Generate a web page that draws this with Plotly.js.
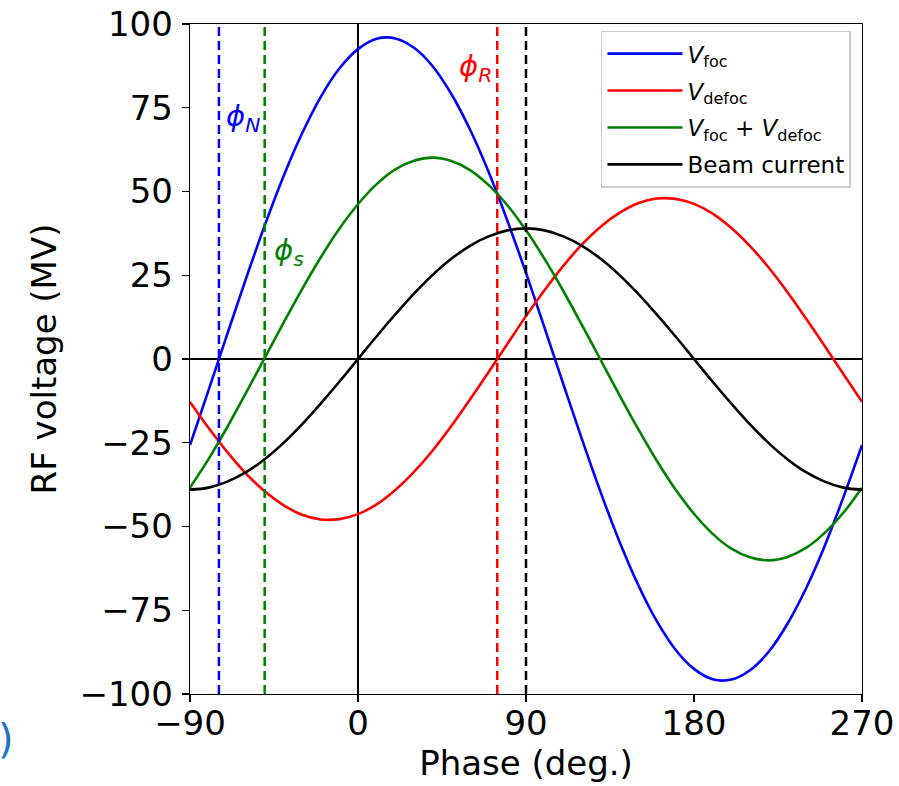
<!DOCTYPE html>
<html>
<head>
<meta charset="utf-8">
<script src="https://cdn.plot.ly/plotly-3.0.1.min.js"></script>
<style>
  html, body { margin: 0; padding: 0; background: #ffffff; }
  #chart { width: 899px; height: 786px; }
</style>
</head>
<body>
<div id="chart"></div>
<script>
// Phase samples (deg.)
const phase = [-90,-80,-70,-60,-50,-40,-30,-20,-10,0,10,20,30,40,50,60,70,80,90,100,110,120,130,140,150,160,170,180,190,200,210,220,230,240,250,260,270];

// V_foc (MV)
const vFoc = [-25.7,-9.2,7.5,24.0,39.8,54.4,67.3,78.2,86.7,92.5,95.6,95.7,92.9,87.4,79.1,68.5,55.8,41.3,25.7,9.2,-7.5,-24.0,-39.8,-54.4,-67.3,-78.2,-86.7,-92.5,-95.6,-95.7,-92.9,-87.4,-79.1,-68.5,-55.8,-41.3,-25.7];

// V_defoc (MV)
const vDefoc = [-12.8,-20.6,-27.8,-34.2,-39.5,-43.6,-46.5,-47.9,-47.8,-46.3,-43.4,-39.1,-33.7,-27.3,-20.0,-12.1,-3.9,4.5,12.8,20.6,27.8,34.2,39.5,43.6,46.5,47.9,47.8,46.3,43.4,39.1,33.7,27.3,20.0,12.1,3.9,-4.5,-12.8];

// V_foc + V_defoc (MV)
const vSum = [-38.4,-29.8,-20.3,-10.1,0.3,10.7,20.8,30.3,38.9,46.2,52.2,56.6,59.2,60.1,59.1,56.4,51.9,45.9,38.4,29.8,20.3,10.1,-0.3,-10.7,-20.8,-30.3,-38.9,-46.2,-52.2,-56.6,-59.2,-60.1,-59.1,-56.4,-51.9,-45.9,-38.4];

// Beam current (scaled)
const beam = [-39.0,-38.4,-36.6,-33.8,-29.9,-25.1,-19.5,-13.3,-6.8,0,6.8,13.3,19.5,25.1,29.9,33.8,36.6,38.4,39.0,38.4,36.6,33.8,29.9,25.1,19.5,13.3,6.8,0,-6.8,-13.3,-19.5,-25.1,-29.9,-33.8,-36.6,-38.4,-39.0];

// Characteristic phases (deg.)
const markerNames = ['phiN', 'phiS', 'phiR', 'beam'];
const markerPhase = [-74.5, -50, 74.6, 90];
const markerColor = ['#0000ff', '#008000', '#ff0000', '#000000'];

// Labels
const seriesNames = [
  '<i>V</i><sub>foc</sub>',
  '<i>V</i><sub>defoc</sub>',
  '<i>V</i><sub>foc</sub> + <i>V</i><sub>defoc</sub>',
  'Beam current'
];
const seriesColor = ['#0000ff', '#ff0000', '#008000', '#000000'];
const xTicks = [-90, 0, 90, 180, 270];
const yTicks = [-100, -75, -50, -25, 0, 25, 50, 75, 100];
const yTickText = ['\u2212100', '\u221275', '\u221250', '\u221225', '0', '25', '50', '75', '100'];
const xTickText = ['\u221290', '0', '90', '180', '270'];

const seriesY = [vFoc, vDefoc, vSum, beam];
const traces = seriesY.map((ys, i) => ({
  x: phase, y: ys, type: 'scatter', mode: 'lines',
  name: seriesNames[i], legendgroup: 'g' + i,
  line: { color: seriesColor[i], width: 2.6, shape: 'spline', smoothing: 1 }
}));

const shapes = markerPhase.map((p, i) => ({
  type: 'line', xref: 'x', yref: 'paper', x0: p, x1: p, y0: 0, y1: 1,
  line: { color: markerColor[i], width: 2.5, dash: '9px,5px' }, layer: 'above'
}));

const font = 'DejaVu Sans, sans-serif';
const annotations = [
  { x: -61.5, y: 72, text: '<i>\u03D5</i><sub><i>N</i></sub>', font: { color: '#0000ff', size: 29, family: font } },
  { x: -37, y: 32, text: '<i>\u03D5</i><sub><i>s</i></sub>', font: { color: '#008000', size: 29, family: font } },
  { x: 63, y: 87, text: '<i>\u03D5</i><sub><i>R</i></sub>', font: { color: '#ff0000', size: 29, family: font } }
].map(a => Object.assign({ xref: 'x', yref: 'y', showarrow: false }, a));
annotations.push({
  xref: 'paper', yref: 'paper', x: -0.288, y: -0.105, text: ')', showarrow: false,
  font: { color: '#1a73c4', size: 40, family: font }
});

const layout = {
  width: 899, height: 786,
  margin: { l: 190, r: 37, t: 24, b: 92 },
  paper_bgcolor: '#ffffff', plot_bgcolor: '#ffffff',
  font: { family: font, color: '#000000', size: 34 },
  showlegend: true,
  legend: {
    x: 0.9836, y: 0.99, xanchor: 'right', yanchor: 'top',
    bgcolor: 'rgba(255,255,255,0.85)', bordercolor: '#cccccc', borderwidth: 1.5,
    font: { size: 23, family: font, color: '#000000' },
    tracegroupgap: 4, itemwidth: 75
  },
  xaxis: {
    range: [-90, 270], tickmode: 'array', tickvals: xTicks, ticktext: xTickText,
    ticks: 'outside', ticklen: 7, tickwidth: 1.3, tickcolor: '#000000',
    showline: true, linecolor: '#000000', linewidth: 1.3, mirror: true,
    showgrid: false, zeroline: true, zerolinecolor: '#000000', zerolinewidth: 1.3,
    tickfont: { size: 34 }, ticklabelstandoff: -8,
    title: { text: 'Phase (deg.)', font: { size: 34 }, standoff: 4 }
  },
  yaxis: {
    range: [-100, 100], tickmode: 'array', tickvals: yTicks, ticktext: yTickText,
    ticks: 'outside', ticklen: 7, tickwidth: 1.3, tickcolor: '#000000',
    showline: true, linecolor: '#000000', linewidth: 1.3, mirror: true,
    showgrid: false, zeroline: true, zerolinecolor: '#000000', zerolinewidth: 1.3,
    tickfont: { size: 34 }, ticklabelstandoff: 2,
    title: { text: 'RF voltage (MV)', font: { size: 34 }, standoff: 12 }
  },
  shapes: shapes,
  annotations: annotations
};

Plotly.newPlot('chart', traces, layout, { displayModeBar: false, staticPlot: true });
</script>
</body>
</html>
